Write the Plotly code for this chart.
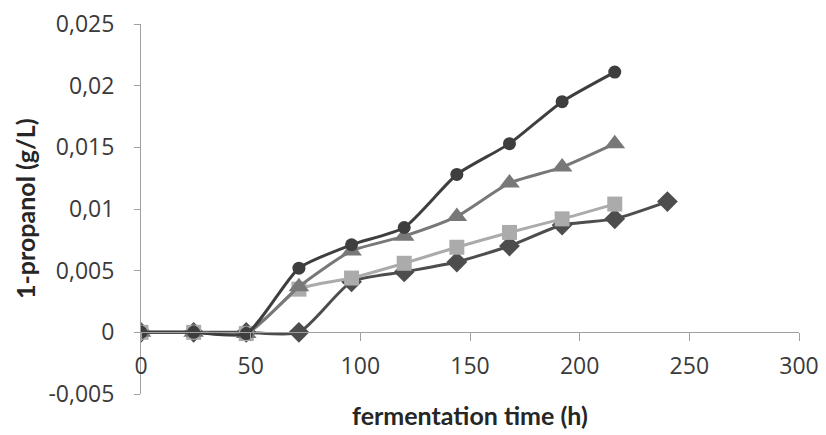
import plotly.graph_objects as go

time_h = [0, 24, 48, 72, 96, 120, 144, 168, 192, 216, 240]

circle_vals = [0, 0, -0.0001, 0.0052, 0.0071, 0.0085, 0.0128, 0.0153, 0.0187, 0.0211]
triangle_vals = [0, 0, -0.0001, 0.0037, 0.0066, 0.0078, 0.0094, 0.0121, 0.0134, 0.0153]
square_vals = [0, 0, -0.0001, 0.0035, 0.0044, 0.0056, 0.0069, 0.0081, 0.0092, 0.0104]
diamond_vals = [0, 0, 0, 0, 0.0041, 0.0049, 0.0057, 0.0070, 0.0087, 0.0092, 0.0106]

y_tickvals = [-0.005, 0, 0.005, 0.01, 0.015, 0.02, 0.025]
y_ticktext = ["-0,005", "0", "0,005", "0,01", "0,015", "0,02", "0,025"]
x_tickvals = [0, 50, 100, 150, 200, 250, 300]

x_title = "fermentation time (h)"
y_title = "1-propanol (g/L)"

TICK_FONT = dict(family="Open Sans", size=23, color="#3a3a3a")
TITLE_FONT = dict(family="Lato", size=25, color="#262626")

fig = go.Figure()

series = [
    (diamond_vals, "diamond", "#4d4d4d", 16),
    (square_vals, "square", "#ababab", 15),
    (triangle_vals, "triangle-up", "#787878", 18),
    (circle_vals, "circle", "#3e3e3e", 13),
]
for vals, sym, col, sz in series:
    fig.add_trace(go.Scatter(
        x=time_h[:len(vals)], y=vals, mode="lines+markers",
        line=dict(color=col, width=3, shape="spline", smoothing=0.6),
        marker=dict(symbol=sym, size=sz, color=col, line=dict(width=0)),
        showlegend=False,
    ))

# the page body adds an 8px offset; the figure is sized to fit inside the window
fig.update_layout(
    width=818, height=427,
    margin=dict(l=133, r=27, t=16, b=41),
    paper_bgcolor="white", plot_bgcolor="white",
    xaxis=dict(
        range=[0, 300], tickvals=x_tickvals,
        showgrid=False, zeroline=False, automargin=False,
        showline=True, linecolor="#a0a0a0", linewidth=1,
        ticks="outside", ticklen=8, tickcolor="#a0a0a0",
        anchor="free", position=1/6,
        ticklabelstandoff=5, ticklabeloverflow="allow",
        tickfont=TICK_FONT,
    ),
    yaxis=dict(
        range=[-0.005, 0.025], tickvals=y_tickvals, ticktext=y_ticktext,
        showgrid=False, zeroline=False, automargin=False,
        showline=True, linecolor="#a0a0a0", linewidth=1,
        ticks="outside", ticklen=6, tickcolor="#a0a0a0",
        ticklabelstandoff=15, ticklabeloverflow="allow",
        tickfont=TICK_FONT,
    ),
    annotations=[
        dict(text="<b>" + x_title + "</b>", xref="paper", yref="paper",
             x=0.5, y=0, xanchor="center", yanchor="middle", yshift=-21,
             showarrow=False, font=TITLE_FONT),
        dict(text="<b>" + y_title + "</b>", xref="paper", yref="paper",
             x=0, y=0.5, xanchor="center", yanchor="middle", xshift=-116,
             textangle=-90, showarrow=False, font=TITLE_FONT),
    ],
)

fig.write_html("out.html")
